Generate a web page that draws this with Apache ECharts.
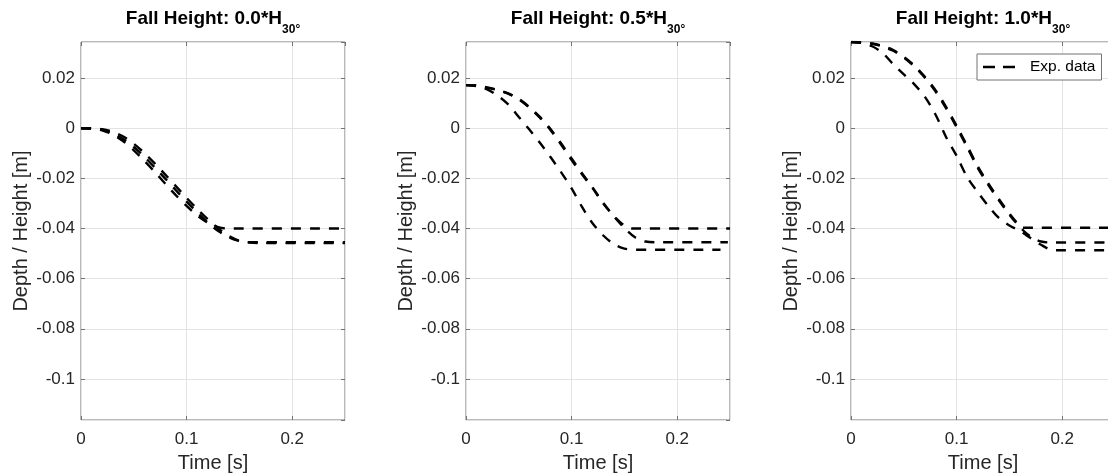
<!DOCTYPE html>
<html>
<head>
<meta charset="utf-8">
<script src="https://cdn.jsdelivr.net/npm/echarts@6/dist/echarts.min.js"></script>
<style>
  html, body { margin: 0; padding: 0; background: #fff; }
  #chart { width: 1108px; height: 475px; }
</style>
</head>
<body>
<div id="chart"></div>
<script>
// 各子图的标题 (Fall Height 系数)
const fallFactors = ['0.0', '0.5', '1.0'];

// Panel 1: 0.0*H
const t1a = [0, 0.01, 0.02, 0.03, 0.04, 0.05, 0.06, 0.07, 0.08, 0.09, 0.10, 0.11, 0.12, 0.13, 0.138, 0.25];
const d1a = [0, -0.0001, -0.0008, -0.0025, -0.0052, -0.0088, -0.0130, -0.0175, -0.0222, -0.0268, -0.0310, -0.0348, -0.0377, -0.0395, -0.0400, -0.0400];
const t1b = [0, 0.01, 0.02, 0.03, 0.04, 0.05, 0.06, 0.07, 0.08, 0.09, 0.10, 0.11, 0.12, 0.13, 0.14, 0.15, 0.16, 0.25];
const d1b = [0, -0.0001, -0.0006, -0.0020, -0.0043, -0.0075, -0.0114, -0.0157, -0.0202, -0.0248, -0.0293, -0.0336, -0.0376, -0.0410, -0.0435, -0.0450, -0.0455, -0.0455];
const t1c = [0, 0.01, 0.02, 0.03, 0.04, 0.05, 0.06, 0.07, 0.08, 0.09, 0.10, 0.11, 0.12, 0.13, 0.14, 0.15, 0.16, 0.17, 0.25];
const d1c = [0, 0, -0.0004, -0.0014, -0.0033, -0.0062, -0.0099, -0.0141, -0.0186, -0.0232, -0.0278, -0.0322, -0.0363, -0.0400, -0.0430, -0.0449, -0.0456, -0.0458, -0.0458];

// Panel 2: 0.5*H
const t2a = [0, 0.01, 0.02, 0.03, 0.04, 0.05, 0.06, 0.07, 0.08, 0.09, 0.10, 0.11, 0.12, 0.13, 0.14, 0.15, 0.16, 0.241];
const d2a = [0.0172, 0.0168, 0.0155, 0.0130, 0.0095, 0.0045, -0.0005, -0.0058, -0.0115, -0.0175, -0.0240, -0.0315, -0.0380, -0.0428, -0.0462, -0.0480, -0.0485, -0.0485];
const t2b = [0, 0.01, 0.02, 0.03, 0.04, 0.05, 0.06, 0.07, 0.08, 0.09, 0.10, 0.11, 0.12, 0.13, 0.14, 0.15, 0.157, 0.25];
const d2b = [0.0172, 0.0170, 0.0162, 0.0152, 0.0138, 0.0115, 0.0082, 0.0042, -0.0007, -0.0065, -0.0127, -0.0185, -0.0240, -0.0300, -0.0350, -0.0388, -0.0400, -0.0400];
const t2c = [0, 0.01, 0.02, 0.03, 0.04, 0.05, 0.06, 0.07, 0.08, 0.09, 0.10, 0.11, 0.12, 0.13, 0.14, 0.15, 0.16, 0.17, 0.18, 0.248];
const d2c = [0.0172, 0.0170, 0.0163, 0.0153, 0.0139, 0.0117, 0.0085, 0.0045, -0.0003, -0.0060, -0.0121, -0.0180, -0.0237, -0.0298, -0.0352, -0.0398, -0.0435, -0.0452, -0.0455, -0.0455];

// Panel 3: 1.0*H
const t3a = [0, 0.01, 0.02, 0.03, 0.04, 0.05, 0.06, 0.07, 0.08, 0.09, 0.10, 0.11, 0.12, 0.13, 0.14, 0.15, 0.16, 0.17, 0.18, 0.19, 0.20, 0.245];
const d3a = [0.0344, 0.0340, 0.0327, 0.0300, 0.0255, 0.0215, 0.0175, 0.0125, 0.0055, -0.0035, -0.0110, -0.0195, -0.0255, -0.0310, -0.0358, -0.0388, -0.0410, -0.0438, -0.0465, -0.0485, -0.0487, -0.0487];
const t3b = [0, 0.01, 0.02, 0.03, 0.04, 0.05, 0.06, 0.07, 0.08, 0.09, 0.10, 0.11, 0.12, 0.13, 0.14, 0.15, 0.16, 0.163, 0.25];
const d3b = [0.0344, 0.0343, 0.0338, 0.0328, 0.0312, 0.0285, 0.0250, 0.0205, 0.0152, 0.0085, 0.0010, -0.0070, -0.0152, -0.0220, -0.0282, -0.0340, -0.0390, -0.0397, -0.0397];
const t3c = [0, 0.01, 0.02, 0.03, 0.04, 0.05, 0.06, 0.07, 0.08, 0.09, 0.10, 0.11, 0.12, 0.13, 0.14, 0.15, 0.16, 0.17, 0.18, 0.19, 0.25];
const d3c = [0.0344, 0.0343, 0.0337, 0.0326, 0.0309, 0.0282, 0.0246, 0.0201, 0.0147, 0.0080, 0.0004, -0.0076, -0.0158, -0.0226, -0.0288, -0.0345, -0.0395, -0.0432, -0.0452, -0.0456, -0.0456];

const panels = [
  [[t1a, d1a], [t1b, d1b], [t1c, d1c]],
  [[t2a, d2a], [t2b, d2b], [t2c, d2c]],
  [[t3a, d3a], [t3b, d3b], [t3c, d3c]]
];

const FONT = 'Liberation Sans, Arial, sans-serif';
const TXT = '#262626';
const BOX = '#737373';
const lefts = [81, 466, 851];
const W = 264, TOP = 42, H = 378;

const zip = (t, d) => t.map((v, i) => [v, d[i]]);
const fmtY = v => String(+v.toFixed(4));
const tick = { show: true, inside: true, length: 4, lineStyle: { color: BOX } };

let chart = echarts.init(document.getElementById('chart'));

let grid = [], xAxis = [], yAxis = [], title = [], series = [];
lefts.forEach((left, i) => {
  grid.push({
    left: left, top: TOP, width: W, height: H, outerBoundsMode: 'none', containLabel: false,
    show: true, borderColor: BOX, borderWidth: 1, backgroundColor: '#fff'
  });
  title.push({
    text: '{a|Fall Height: ' + fallFactors[i] + '*H}{b|30°}',
    left: left + W / 2, top: 9, textAlign: 'center', padding: 0,
    textStyle: {
      rich: {
        a: { fontFamily: FONT, fontSize: 19, fontWeight: 'bold', color: '#000', verticalAlign: 'top' },
        b: { fontFamily: FONT, fontSize: 12, fontWeight: 'bold', color: '#000', lineHeight: 27, verticalAlign: 'bottom' }
      }
    }
  });
  // 下 x 轴
  xAxis.push({
    type: 'value', gridIndex: i, min: 0, max: 0.25, interval: 0.1,
    name: 'Time [s]', nameLocation: 'middle', nameGap: 33,
    nameTextStyle: { fontFamily: FONT, fontSize: 20, color: TXT },
    axisLine: { show: false, onZero: false },
    axisTick: tick,
    axisLabel: { fontFamily: FONT, fontSize: 17, color: TXT, margin: 11, showMaxLabel: false, formatter: fmtY },
    splitLine: { show: true, lineStyle: { color: '#e3e3e3', width: 1 } }
  });
  yAxis.push({
    type: 'value', gridIndex: i, min: -0.1164, max: 0.0344, splitNumber: 7, minInterval: 0.02, maxInterval: 0.02,
    name: 'Depth / Height [m]', nameLocation: 'middle', nameGap: 50,
    nameTextStyle: { fontFamily: FONT, fontSize: 20, color: TXT },
    axisLine: { show: false, onZero: false },
    axisTick: tick,
    axisLabel: { fontFamily: FONT, fontSize: 17, color: TXT, margin: 6, padding: [2, 0, 0, 0], showMinLabel: false, showMaxLabel: false, formatter: fmtY },
    splitLine: { show: true, lineStyle: { color: '#e3e3e3', width: 1 } }
  });
});
// 上 x 轴 / 右 y 轴 (只画刻度)
lefts.forEach((left, i) => {
  xAxis.push({
    type: 'value', gridIndex: i, position: 'top', min: 0, max: 0.25, interval: 0.1,
    axisLine: { show: false, onZero: false }, axisLabel: { show: false }, splitLine: { show: false },
    axisTick: tick
  });
  yAxis.push({
    type: 'value', gridIndex: i, position: 'right', min: -0.1164, max: 0.0344, splitNumber: 7, minInterval: 0.02, maxInterval: 0.02,
    axisLine: { show: false, onZero: false }, axisLabel: { show: false }, splitLine: { show: false },
    axisTick: tick
  });
});

panels.forEach((curves, i) => {
  curves.forEach(([t, d]) => {
    series.push({
      name: 'Exp. data', type: 'line', xAxisIndex: i, yAxisIndex: i,
      data: zip(t, d), symbol: 'none', smooth: 0.3, clip: true,
      color: '#000',
      lineStyle: { color: '#000', width: 2.4, type: [10, 9] },
      z: 3
    });
  });
});

chart.setOption({
  animation: false,
  title: title,
  grid: grid,
  xAxis: xAxis,
  yAxis: yAxis,
  legend: {
    data: ['Exp. data'], left: 977, top: 54,
    backgroundColor: '#fff', borderColor: BOX, borderWidth: 1, borderRadius: 0,
    padding: [5, 6, 5, 6], itemWidth: 32, itemHeight: 2.6,
    icon: 'path://M0,0h12v2.6h-12z M20,0h12v2.6h-12z',
    itemStyle: { color: '#000' },
    textStyle: { fontFamily: FONT, fontSize: 15.5, color: '#000', padding: [0, 0, 0, 10] }
  },
  series: series
});
</script>
</body>
</html>
